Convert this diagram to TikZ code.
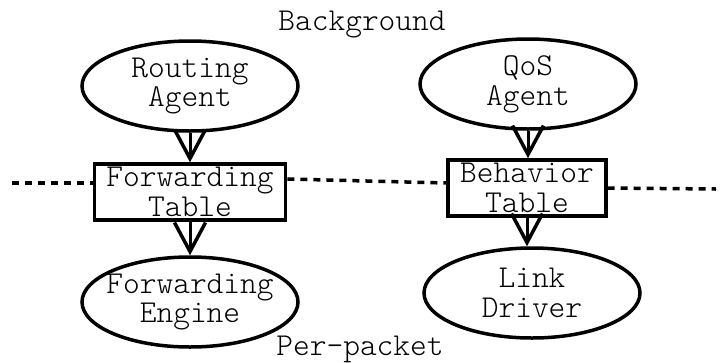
\documentclass[tikz,border=0pt]{standalone}
\usepackage{fontspec}
\setmonofont{Latin Modern Mono Light}
\usetikzlibrary{shapes.geometric,arrows.meta}

\begin{document}
\begin{tikzpicture}[x=1bp, y=-1bp,
  font=\ttfamily\fontsize{32}{30}\selectfont,
  agent/.style={draw, ellipse, line width=3.5bp, minimum width=216bp, minimum height=90bp, inner xsep=-20bp, inner ysep=0pt, align=center},
  tbl/.style={draw, rectangle, line width=3.5bp, minimum height=56bp, inner xsep=12bp, inner ysep=0pt, align=center},
  flow/.style={line width=3bp, -{Straight Barb[length=29bp, width=31bp, line width=3.5bp]}},
  split/.style={line width=3.5bp, dash pattern=on 7bp off 6bp}]
  \useasboundingbox (0,0) rectangle (722,362);

  % the two planes
  \node[anchor=base] (bg) at (362,30) {Background};
  \node[anchor=base] (pp) at (360,355) {Per-packet};

  % routing side
  \node[agent] (ra) at (190,86) {Routing\\Agent};
  \node[tbl] (ft) at (190,192) {Forwarding\\Table};
  \node[agent] (fe) at (190,302) {Forwarding\\Engine};

  % qos side
  \node[agent] (qa) at (528,84) {QoS\\Agent};
  \node[tbl] (bt) at (527,188) {Behavior\\Table};
  \node[agent] (ld) at (532,293) {Link\\Driver};

  \draw[flow] (ra.south) -- (ft.north);
  \draw[flow] (ft.south) -- (fe.north);
  \draw[flow] (qa.south) -- (qa.south |- bt.north);
  \draw[flow] (bt.south) -- (bt.south |- ld.north);

  % boundary between background and per-packet work
  \draw[split] (12,183) coordinate (l0) -- (l0 -| ft.west);
  \draw[split] (ft.east |- 0,179) -- (bt.west |- 0,183);
  \draw[split] (bt.east |- 0,188) -- (716,189) coordinate (r0);
\end{tikzpicture}
\end{document}
